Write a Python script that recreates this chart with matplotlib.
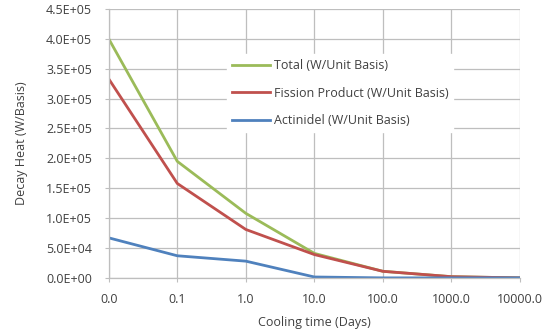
import matplotlib.pyplot as plt
import numpy as np

plt.rcParams['font.family'] = ['Open Sans', 'DejaVu Sans']

cooling_days = ['0.0', '0.1', '1.0', '10.0', '100.0', '1000.0', '10000.0']
total = [4.0e5, 1.95e5, 1.08e5, 4.1e4, 1.1e4, 2.0e3, 0.0]
fission = [3.33e5, 1.58e5, 8.1e4, 3.9e4, 1.1e4, 2.0e3, 0.0]
actinide = [6.7e4, 3.7e4, 2.8e4, 1.5e3, 0.0, 0.0, 0.0]

fig = plt.figure(figsize=(5.52, 3.32), dpi=100)
ax = fig.add_axes([0.197, 0.163, 0.745, 0.81])

x = np.arange(len(cooling_days))
ax.plot(x, total, color='#9BBB59', linewidth=2, label='Total (W/Unit Basis)')
ax.plot(x, fission, color='#C0504D', linewidth=2, label='Fission Product (W/Unit Basis)')
ax.plot(x, actinide, color='#4F81BD', linewidth=2, label='Actinidel (W/Unit Basis)')

ax.set_xlim(0, len(cooling_days) - 1)
ax.set_ylim(0, 4.5e5)
ax.set_xticks(x)
ax.set_xticklabels(cooling_days)
yt = np.arange(0, 4.51e5, 5e4)
ax.set_yticks(yt)
ax.set_yticklabels(['%.1E' % v for v in yt])
ax.grid(True, color='#BEBEBE', linewidth=0.9)
ax.set_axisbelow(True)
for s in ['top', 'right']:
    ax.spines[s].set_visible(False)
for s in ['left', 'bottom']:
    ax.spines[s].set_color('#BEBEBE')
    ax.spines[s].set_linewidth(0.9)
ax.tick_params(axis='both', labelsize=9, colors='#BEBEBE', labelcolor='#404040', length=3)
ax.tick_params(axis='y', pad=9)
ax.tick_params(axis='x', pad=8)

ax.set_xlabel('Cooling time (Days)', fontsize=9, color='#404040', labelpad=7)
ax.set_ylabel('Decay Heat (W/Basis)', fontsize=9, color='#404040', labelpad=13)

leg = ax.legend(loc='upper left', bbox_to_anchor=(221 / 552, 1 - 48 / 332),
                bbox_transform=fig.transFigure, frameon=True, fontsize=9,
                handlelength=3, labelspacing=1.15, borderpad=0.4, handletextpad=0.3)
leg.get_frame().set_facecolor('white')
leg.get_frame().set_edgecolor('white')
leg.get_frame().set_alpha(1)
for t in leg.get_texts():
    t.set_color('#404040')

fig.savefig('out.png')
